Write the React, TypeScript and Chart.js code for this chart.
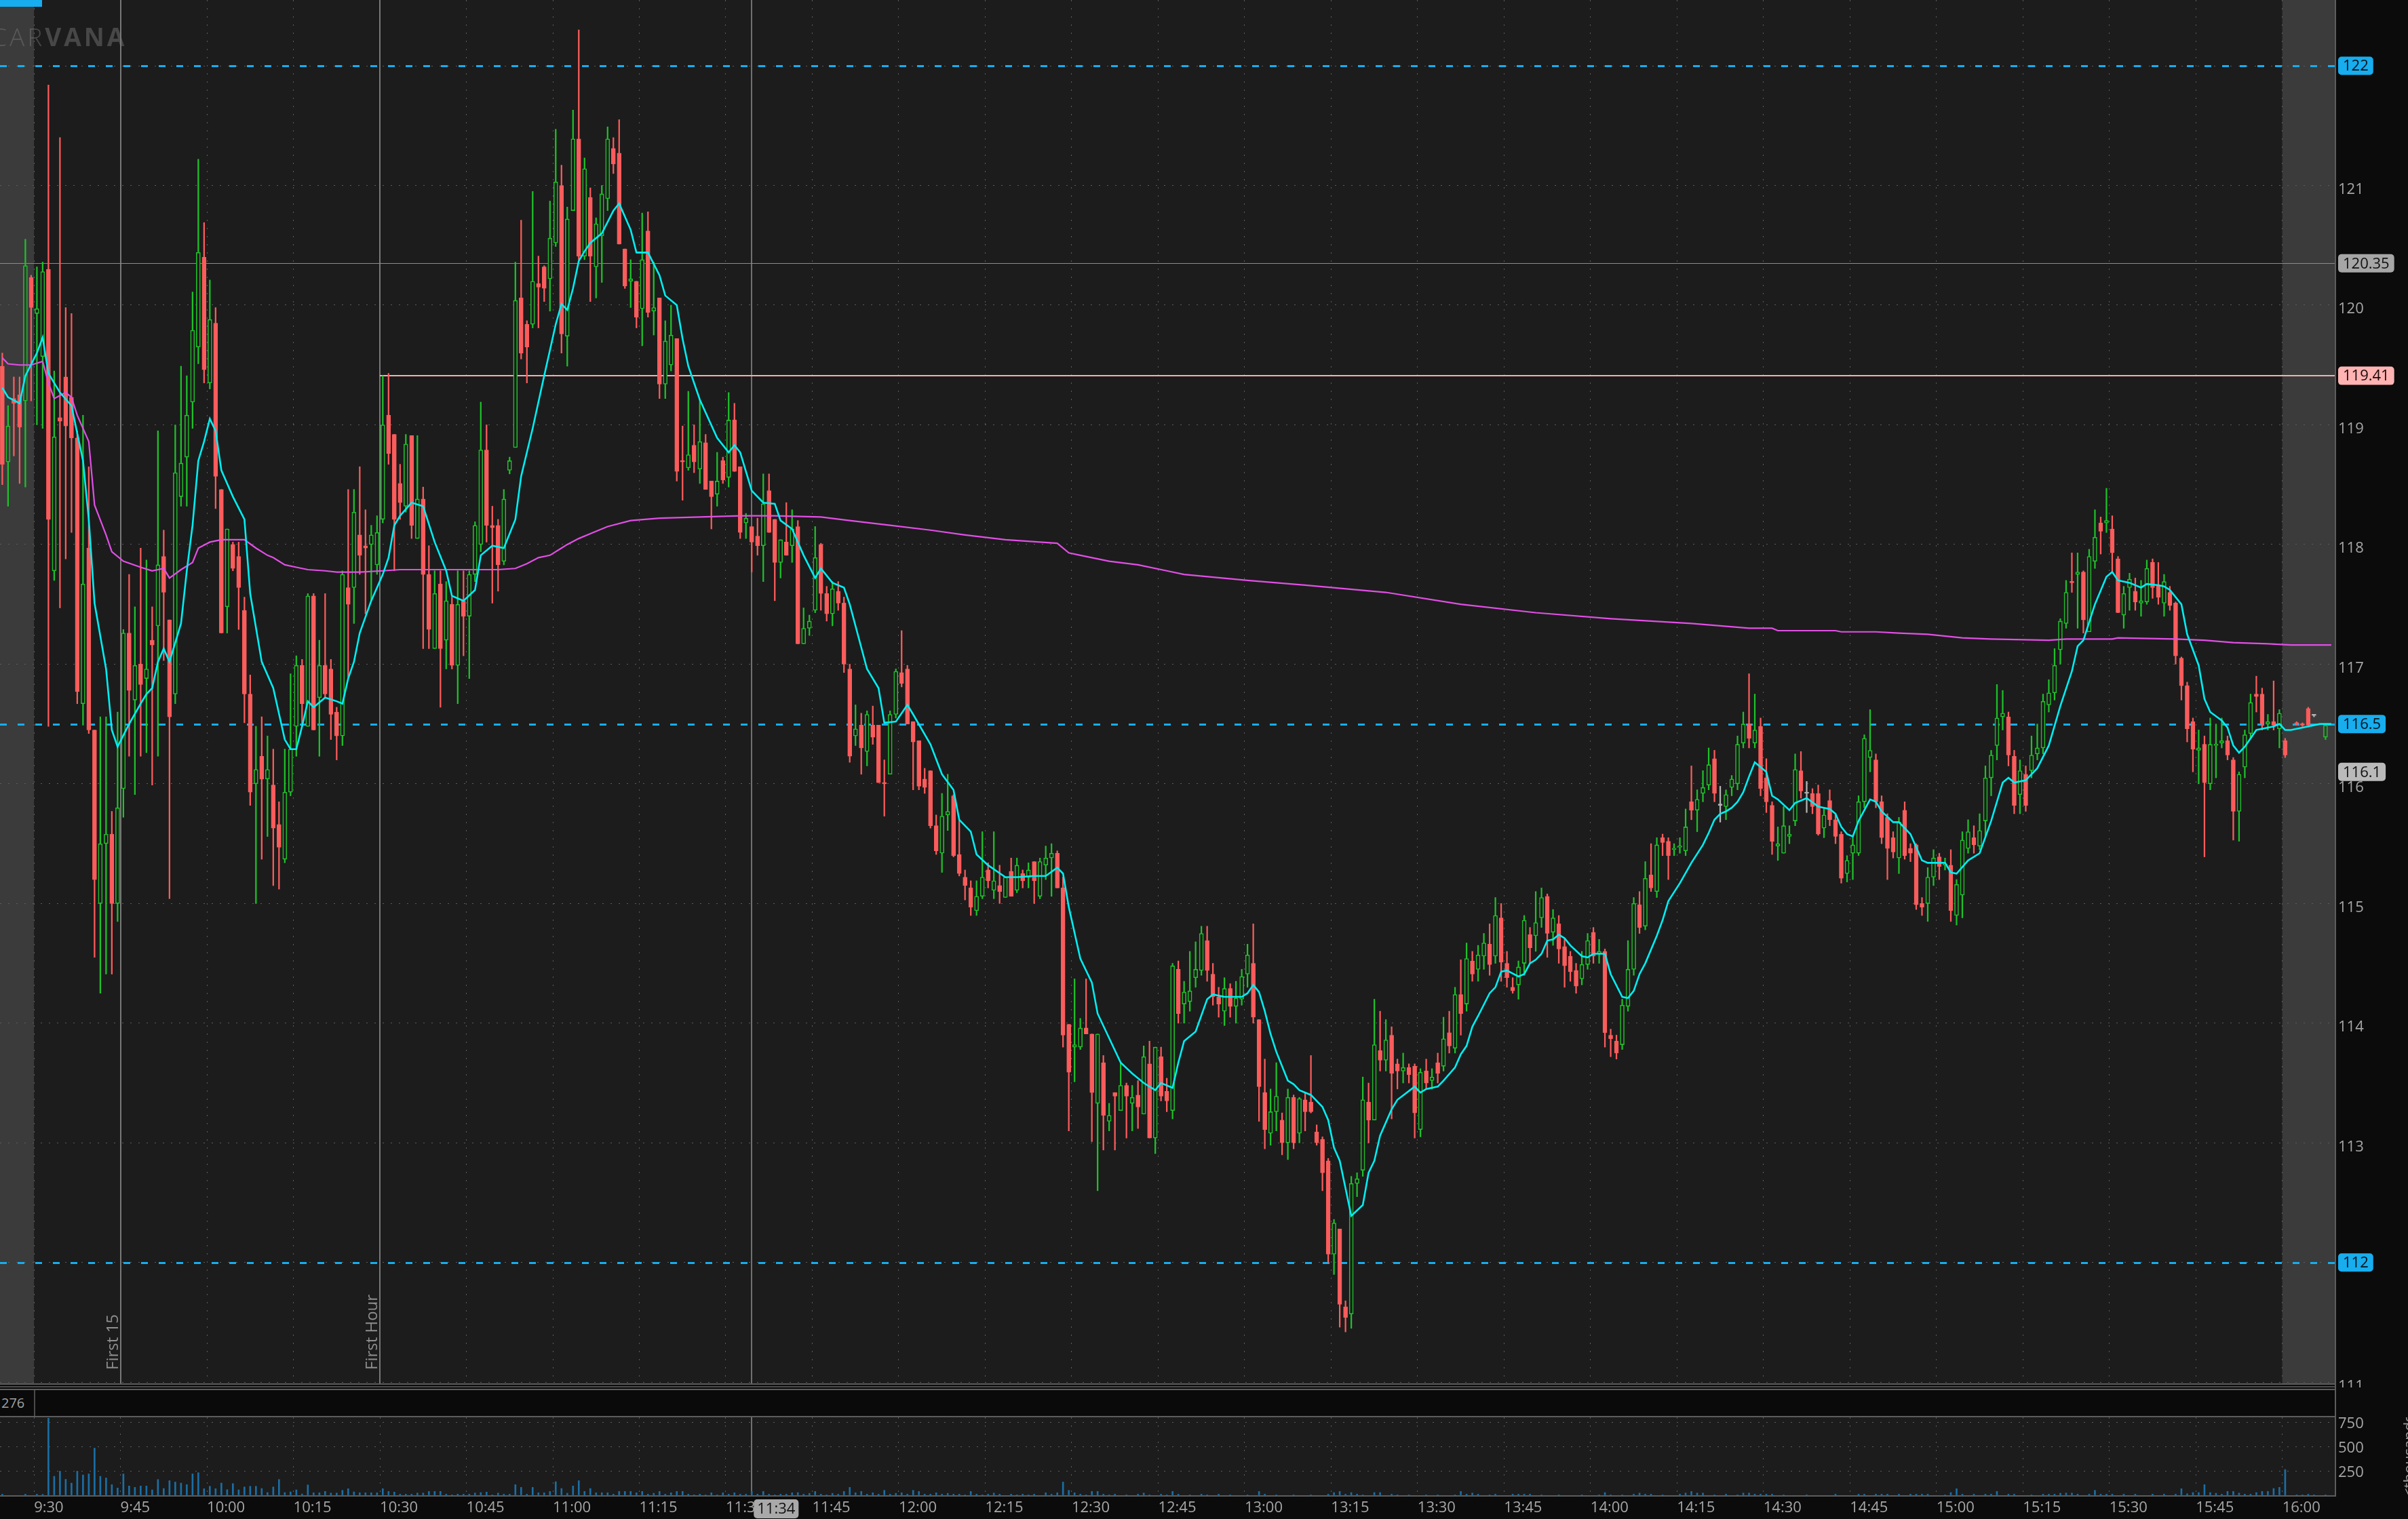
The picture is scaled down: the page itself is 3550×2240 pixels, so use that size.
import React, { useEffect, useRef } from 'react';
import { Chart, registerables } from 'chart.js';

Chart.register(...registerables);

// ---------------- DATA (1-minute candles: [open, high, low, close]) ----------------
// pre-market, minutes -6 .. -1 relative to 9:30
const preMarketCandles = [
  [119.49, 119.6, 118.5, 118.67], [118.69, 119.16, 118.32, 118.99], [119.22, 119.4, 118.74, 119.18],
  [119.25, 119.4, 118.51, 118.98], [119.2, 120.55, 118.48, 120.33], [120.23, 120.25, 119.2, 119.98],
];
// 9:30 - 10:29
const candles0930 = [
  [119.93, 120.32, 119.0, 119.97], [119.57, 120.36, 118.97, 120.28], [120.3, 121.84, 116.48, 118.21], [117.78, 119.45, 117.7, 118.9],
  [119.06, 121.4, 117.47, 119.03], [119.4, 119.98, 117.88, 118.99], [119.23, 119.93, 118.1, 118.89], [118.89, 118.95, 116.67, 116.77],
  [116.67, 119.08, 116.49, 117.67], [117.97, 118.65, 116.42, 116.45], [116.45, 116.45, 114.55, 115.2], [115.0, 116.56, 114.25, 115.5],
  [115.5, 116.56, 114.41, 115.58], [115.58, 115.77, 114.41, 115.0], [115.0, 116.6, 114.85, 115.8], [115.96, 117.29, 115.72, 117.26],
  [117.26, 117.75, 116.23, 116.78], [116.7, 117.48, 115.91, 116.99], [117.0, 117.97, 116.23, 116.83], [116.88, 117.87, 116.26, 116.96],
  [117.2, 117.48, 115.99, 117.16], [117.32, 118.95, 116.23, 117.83], [117.9, 118.12, 117.03, 117.6], [117.37, 117.37, 115.04, 116.56],
  [116.75, 119.0, 116.67, 118.6], [118.4, 119.49, 118.32, 118.68], [118.73, 119.41, 118.32, 119.08], [119.19, 120.11, 118.97, 119.79],
  [119.65, 121.22, 119.51, 120.44], [120.4, 120.69, 119.35, 119.46], [119.35, 120.21, 119.3, 119.88], [119.85, 119.98, 118.3, 118.57],
  [118.46, 118.46, 117.26, 117.26], [117.48, 118.13, 117.26, 118.13], [118.0, 118.02, 117.78, 117.8], [117.9, 118.02, 117.29, 117.64],
  [117.45, 117.56, 116.51, 116.75], [116.75, 116.91, 115.82, 115.93], [116.0, 116.48, 115.0, 116.12], [116.23, 116.56, 115.37, 116.04],
  [116.04, 116.4, 115.56, 116.12], [115.99, 116.29, 115.15, 115.63], [115.66, 115.85, 115.12, 115.47], [115.37, 116.29, 115.34, 115.93],
  [115.93, 116.92, 115.9, 116.29], [116.48, 117.07, 116.23, 116.99], [116.99, 117.04, 116.48, 116.67], [116.48, 117.59, 116.48, 117.57],
  [117.57, 117.59, 116.45, 116.45], [116.72, 117.2, 116.23, 116.99], [116.99, 117.59, 116.72, 116.75], [116.96, 117.04, 116.37, 116.58],
  [116.6, 116.64, 116.2, 116.4], [116.4, 117.78, 116.32, 117.75], [117.64, 118.46, 116.89, 117.5], [117.64, 118.46, 117.34, 118.27],
  [118.08, 118.65, 117.75, 117.91], [117.99, 118.29, 117.42, 117.97], [118.0, 118.16, 117.53, 118.08], [117.83, 118.24, 117.75, 118.1],
];
// 10:30 - 11:29
const candles1030 = [
  [118.21, 119.41, 118.18, 119.0], [119.08, 119.43, 118.67, 118.76], [118.92, 118.92, 117.78, 118.21], [118.51, 118.67, 118.21, 118.35],
  [118.32, 118.92, 118.27, 118.84], [118.91, 118.91, 118.05, 118.16], [118.05, 118.91, 118.05, 118.38], [118.38, 118.48, 117.13, 117.75],
  [117.75, 117.99, 117.13, 117.29], [117.13, 117.78, 117.13, 117.59], [117.67, 117.78, 116.64, 117.13], [117.2, 117.69, 116.96, 117.53],
  [117.5, 117.56, 116.96, 116.99], [116.99, 117.78, 116.67, 117.5], [117.53, 117.78, 117.07, 117.4], [117.4, 117.78, 116.88, 117.75],
  [117.75, 118.19, 117.69, 118.16], [118.0, 119.19, 117.94, 118.79], [118.79, 119.0, 118.02, 118.16], [118.16, 118.32, 117.51, 118.14],
  [118.16, 118.21, 117.61, 117.83], [117.86, 118.46, 117.83, 118.38], [118.62, 118.73, 118.59, 118.7], [118.81, 120.36, 118.81, 120.04],
  [120.06, 120.71, 119.55, 119.6], [119.84, 119.87, 119.35, 119.65], [119.84, 120.95, 119.81, 120.2], [120.18, 120.41, 119.81, 120.15],
  [120.32, 120.33, 120.03, 120.14], [120.22, 120.87, 119.95, 120.56], [120.52, 121.47, 120.49, 121.03], [121.0, 121.17, 119.6, 119.76],
  [119.74, 120.82, 119.49, 120.72], [120.79, 121.63, 120.79, 121.39], [121.39, 122.3, 120.38, 120.41], [120.41, 121.23, 120.38, 121.14],
  [120.9, 120.98, 120.03, 120.41], [120.32, 120.73, 120.06, 120.68], [120.58, 121.0, 120.19, 120.93], [120.89, 121.49, 120.79, 121.39],
  [121.31, 121.4, 121.1, 121.18], [121.27, 121.55, 120.51, 120.51], [120.47, 120.47, 120.14, 120.16], [120.2, 120.38, 119.98, 120.22],
  [120.2, 120.2, 119.81, 119.9], [119.97, 120.77, 119.66, 120.38], [120.62, 120.78, 119.9, 119.94], [119.95, 120.36, 119.75, 119.98],
  [120.06, 120.06, 119.22, 119.34], [119.34, 119.87, 119.22, 119.7], [119.5, 120.0, 119.45, 119.75], [119.72, 119.72, 118.53, 118.61],
  [118.7, 118.99, 118.37, 118.69], [118.64, 119.28, 118.62, 118.75], [118.83, 119.0, 118.6, 118.69], [118.63, 119.21, 118.51, 118.86],
  [118.85, 118.92, 118.46, 118.46], [118.53, 118.53, 118.13, 118.4], [118.42, 118.77, 118.32, 118.53], [118.7, 118.73, 118.51, 118.54],
];
// 11:30 - 12:29
const candles1130 = [
  [118.56, 119.27, 118.48, 119.04], [119.04, 119.18, 118.61, 118.61], [118.65, 118.65, 118.05, 118.1], [118.18, 118.26, 118.05, 118.22],
  [118.15, 118.15, 117.77, 118.02], [118.07, 118.22, 117.91, 117.99], [117.99, 118.59, 117.69, 118.34], [118.45, 118.59, 118.1, 118.1],
  [118.21, 118.21, 117.53, 117.85], [117.85, 118.04, 117.72, 118.04], [118.02, 118.35, 117.91, 117.91], [117.99, 118.29, 117.85, 118.13],
  [118.15, 118.2, 117.17, 117.17], [117.17, 117.47, 117.17, 117.3], [117.3, 117.41, 117.24, 117.36], [117.45, 118.15, 117.43, 117.89],
  [118.0, 118.01, 117.45, 117.59], [117.59, 117.65, 117.36, 117.42], [117.42, 117.69, 117.32, 117.63], [117.61, 117.69, 117.45, 117.51],
  [117.51, 117.56, 116.93, 117.0], [116.96, 117.0, 116.18, 116.23], [116.4, 116.66, 116.32, 116.46], [116.49, 116.59, 116.08, 116.3],
  [116.27, 116.61, 116.15, 116.58], [116.49, 116.65, 116.33, 116.39], [116.49, 116.49, 116.01, 116.01], [116.01, 116.2, 115.73, 116.0],
  [116.08, 116.61, 116.08, 116.58], [116.58, 116.96, 116.55, 116.94], [116.93, 117.28, 116.81, 116.84], [116.96, 116.99, 116.5, 116.5],
  [116.52, 116.52, 115.95, 116.35], [116.36, 116.36, 115.95, 115.98], [116.04, 116.13, 115.92, 115.97], [116.11, 116.11, 115.63, 115.65],
  [115.65, 115.74, 115.41, 115.44], [115.42, 115.92, 115.26, 115.73], [115.74, 116.08, 115.61, 115.77], [115.9, 115.91, 115.39, 115.4],
  [115.41, 115.7, 115.23, 115.25], [115.22, 115.28, 115.03, 115.15], [115.13, 115.19, 114.9, 114.97], [114.94, 115.19, 114.9, 115.06],
  [115.06, 115.6, 115.04, 115.22], [115.28, 115.34, 115.13, 115.19], [115.11, 115.6, 115.04, 115.19], [115.15, 115.32, 115.0, 115.1],
  [115.05, 115.22, 115.05, 115.22], [115.27, 115.38, 115.06, 115.06], [115.11, 115.38, 115.09, 115.32], [115.25, 115.28, 115.13, 115.19],
  [115.22, 115.34, 115.13, 115.28], [115.35, 115.35, 115.0, 115.19], [115.06, 115.38, 115.04, 115.35], [115.32, 115.48, 115.2, 115.38],
  [115.38, 115.5, 115.06, 115.42], [115.42, 115.44, 115.13, 115.13], [115.13, 115.22, 113.8, 113.9], [113.99, 113.99, 113.1, 113.59],
];
// 12:30 - 13:29
const candles1230 = [
  [113.8, 114.37, 113.51, 113.82], [113.8, 114.04, 113.78, 113.96], [113.96, 114.37, 113.91, 113.91], [113.91, 113.91, 113.01, 113.42],
  [113.33, 113.91, 112.6, 113.91], [113.67, 113.73, 112.94, 113.23], [113.18, 113.33, 113.1, 113.23], [113.42, 113.42, 112.94, 113.39],
  [113.27, 113.67, 113.27, 113.48], [113.48, 113.5, 113.04, 113.39], [113.33, 113.48, 113.1, 113.38], [113.4, 113.52, 113.12, 113.3],
  [113.24, 113.81, 113.24, 113.72], [113.66, 113.85, 113.04, 113.04], [113.04, 113.8, 112.91, 113.8], [113.72, 113.8, 113.35, 113.39],
  [113.43, 113.54, 113.26, 113.35], [113.27, 114.5, 113.2, 114.48], [114.45, 114.52, 114.0, 114.08], [114.16, 114.35, 114.0, 114.26],
  [114.18, 114.6, 114.1, 114.27], [114.38, 114.68, 114.3, 114.45], [114.44, 114.81, 114.4, 114.75], [114.69, 114.81, 114.35, 114.44],
  [114.41, 114.5, 114.15, 114.22], [114.22, 114.3, 114.05, 114.16], [114.1, 114.38, 113.98, 114.29], [114.29, 114.33, 114.05, 114.14],
  [114.14, 114.35, 114.0, 114.21], [114.2, 114.45, 114.15, 114.39], [114.41, 114.66, 114.3, 114.57], [114.5, 114.83, 114.0, 114.05],
  [114.03, 114.03, 113.18, 113.47], [113.42, 113.7, 112.95, 113.11], [113.08, 113.45, 112.98, 113.26], [113.26, 113.67, 113.1, 113.39],
  [113.19, 113.25, 112.9, 113.0], [113.0, 113.45, 112.86, 113.38], [113.38, 113.4, 112.95, 113.0], [113.08, 113.38, 113.0, 113.37],
  [113.36, 113.42, 113.1, 113.26], [113.34, 113.73, 113.25, 113.26], [113.09, 113.15, 112.98, 113.0], [113.03, 113.05, 112.6, 112.75],
  [112.85, 112.87, 112.0, 112.07], [112.07, 112.36, 111.9, 112.33], [112.28, 112.28, 111.46, 111.65], [111.63, 111.68, 111.42, 111.54],
  [111.57, 112.72, 111.45, 112.66], [112.66, 112.75, 112.55, 112.7], [112.77, 113.55, 112.72, 113.36], [113.34, 113.5, 113.0, 113.19],
  [113.19, 114.2, 113.19, 113.82], [113.77, 114.1, 113.6, 113.69], [113.69, 114.03, 113.6, 113.86], [113.9, 113.97, 113.2, 113.58],
  [113.66, 113.7, 113.45, 113.6], [113.6, 113.75, 113.5, 113.63], [113.63, 113.66, 113.5, 113.57], [113.64, 113.66, 113.04, 113.25],
];
// 13:30 - 14:29
const candles1330 = [
  [113.11, 113.62, 113.05, 113.59], [113.6, 113.7, 113.45, 113.5], [113.52, 113.62, 113.45, 113.55], [113.67, 113.75, 113.5, 113.58],
  [113.64, 114.05, 113.6, 113.87], [113.92, 114.1, 113.75, 113.81], [113.79, 114.3, 113.75, 114.24], [114.24, 114.53, 113.9, 114.08],
  [114.16, 114.67, 114.1, 114.54], [114.52, 114.6, 114.35, 114.41], [114.45, 114.65, 114.35, 114.57], [114.56, 114.75, 114.45, 114.67],
  [114.66, 114.83, 114.4, 114.49], [114.56, 115.05, 114.5, 114.9], [114.88, 115.0, 114.35, 114.51], [114.5, 114.6, 114.3, 114.38],
  [114.3, 114.38, 114.25, 114.27], [114.32, 114.52, 114.2, 114.47], [114.5, 114.9, 114.4, 114.86], [114.74, 114.8, 114.5, 114.63],
  [114.73, 115.1, 114.6, 114.84], [114.88, 115.13, 114.8, 115.05], [115.06, 115.08, 114.55, 114.75], [114.76, 114.95, 114.65, 114.88],
  [114.83, 114.9, 114.5, 114.62], [114.64, 114.7, 114.3, 114.48], [114.56, 114.6, 114.35, 114.43], [114.44, 114.5, 114.25, 114.31],
  [114.37, 114.6, 114.32, 114.49], [114.49, 114.75, 114.45, 114.69], [114.76, 114.8, 114.5, 114.56], [114.58, 114.7, 114.5, 114.6],
  [114.6, 114.62, 113.8, 113.92], [113.9, 113.95, 113.72, 113.87], [113.85, 113.9, 113.7, 113.75], [113.82, 114.2, 113.78, 114.15],
  [114.14, 114.69, 114.1, 114.45], [114.45, 115.05, 114.4, 115.0], [114.99, 115.1, 114.75, 114.8], [114.81, 115.35, 114.78, 115.21],
  [115.24, 115.5, 115.1, 115.13], [115.1, 115.55, 115.05, 115.49], [115.55, 115.58, 115.4, 115.51], [115.52, 115.55, 115.2, 115.4],
  [115.45, 115.5, 115.4, 115.46], [115.47, 115.55, 115.42, 115.48], [115.44, 115.79, 115.4, 115.64], [115.85, 116.15, 115.7, 115.78],
  [115.78, 115.95, 115.6, 115.87], [115.92, 116.11, 115.85, 115.97], [115.99, 116.3, 115.95, 116.16], [116.21, 116.28, 115.85, 115.92],
  [115.82, 115.98, 115.68, 115.82], [115.81, 115.95, 115.7, 115.91], [115.97, 116.07, 115.9, 116.04], [116.0, 116.4, 115.95, 116.33],
  [116.34, 116.6, 116.3, 116.5], [116.5, 116.92, 116.3, 116.38], [116.34, 116.75, 116.3, 116.45], [116.48, 116.55, 115.9, 115.96],
];
// 14:30 - 15:29
const candles1430 = [
  [116.05, 116.21, 115.76, 115.85], [115.82, 115.85, 115.41, 115.52], [115.48, 115.64, 115.36, 115.5], [115.42, 115.81, 115.42, 115.65],
  [115.56, 115.65, 115.5, 115.58], [115.69, 116.25, 115.65, 116.12], [116.11, 116.27, 115.88, 115.94], [115.92, 116.02, 115.76, 115.92],
  [115.92, 115.96, 115.75, 115.81], [115.92, 115.99, 115.57, 115.58], [115.63, 115.8, 115.55, 115.74], [115.86, 115.95, 115.65, 115.7],
  [115.7, 115.75, 115.5, 115.56], [115.58, 115.6, 115.17, 115.21], [115.25, 115.4, 115.18, 115.36], [115.42, 115.55, 115.2, 115.49],
  [115.42, 115.9, 115.4, 115.85], [115.85, 116.41, 115.8, 116.38], [116.22, 116.62, 116.1, 116.28], [116.2, 116.25, 115.8, 115.85],
  [115.85, 115.9, 115.5, 115.55], [115.72, 115.75, 115.2, 115.46], [115.55, 115.6, 115.38, 115.43], [115.38, 115.72, 115.25, 115.68],
  [115.78, 115.85, 115.37, 115.4], [115.46, 115.5, 115.35, 115.42], [115.49, 115.5, 114.95, 114.99], [115.0, 115.05, 114.9, 114.97],
  [115.0, 115.3, 114.85, 115.22], [115.22, 115.45, 115.15, 115.38], [115.39, 115.42, 115.2, 115.31], [115.32, 115.38, 115.28, 115.33],
  [115.32, 115.45, 114.85, 114.94], [114.9, 115.2, 114.82, 115.16], [115.07, 115.6, 114.88, 115.53], [115.46, 115.7, 115.42, 115.6],
  [115.55, 115.65, 115.42, 115.49], [115.48, 115.75, 115.45, 115.61], [115.69, 116.15, 115.55, 116.05], [116.05, 116.28, 115.9, 116.24],
  [116.32, 116.83, 116.2, 116.55], [116.56, 116.78, 116.45, 116.59], [116.56, 116.6, 116.15, 116.24], [116.23, 116.28, 115.75, 115.82],
  [115.91, 116.2, 115.75, 116.11], [116.08, 116.15, 115.77, 115.82], [116.11, 116.4, 116.05, 116.24], [116.25, 116.5, 116.2, 116.3],
  [116.3, 116.75, 116.25, 116.69], [116.66, 116.87, 116.6, 116.76], [116.76, 117.13, 116.7, 116.99], [117.12, 117.38, 117.0, 117.36],
  [117.34, 117.7, 117.3, 117.6], [117.69, 117.93, 117.6, 117.68], [117.75, 117.93, 117.3, 117.77], [117.77, 117.78, 117.26, 117.37],
  [117.27, 117.96, 117.27, 117.9], [117.86, 118.29, 117.8, 118.06], [118.18, 118.23, 117.92, 118.11], [118.18, 118.47, 118.1, 118.2],
];
// 15:30 - 15:59
const candles1530 = [
  [118.13, 118.24, 117.76, 117.93], [117.88, 117.9, 117.43, 117.43], [117.41, 117.65, 117.3, 117.59], [117.64, 117.76, 117.45, 117.71],
  [117.61, 117.72, 117.45, 117.52], [117.51, 117.7, 117.4, 117.53], [117.52, 117.87, 117.5, 117.8], [117.85, 117.88, 117.55, 117.64],
  [117.66, 117.85, 117.5, 117.56], [117.51, 117.75, 117.4, 117.69], [117.6, 117.65, 117.45, 117.49], [117.51, 117.52, 117.0, 117.07],
  [117.05, 117.06, 116.7, 116.82], [116.82, 116.85, 116.35, 116.46], [116.52, 116.55, 116.1, 116.29], [116.28, 116.45, 116.0, 116.3],
  [116.33, 116.4, 115.39, 116.01], [116.0, 116.55, 115.95, 116.33], [116.32, 116.5, 116.05, 116.33], [116.34, 116.55, 116.3, 116.36],
  [116.36, 116.4, 116.2, 116.24], [116.2, 116.22, 115.53, 115.77], [115.77, 116.1, 115.52, 116.08], [116.14, 116.45, 116.05, 116.41],
  [116.42, 116.75, 116.38, 116.68], [116.75, 116.9, 116.6, 116.73], [116.75, 116.8, 116.45, 116.5], [116.5, 116.58, 116.45, 116.52],
  [116.52, 116.86, 116.45, 116.49], [116.46, 116.62, 116.3, 116.59],
];
// after hours (sparse)
const afterHoursMinutes = [390, 392, 393, 394, 395, 397];
const afterHoursCandles = [
  [116.36, 116.38, 116.22, 116.24], [116.51, 116.52, 116.49, 116.5], [116.5, 116.51, 116.48, 116.49],
  [116.63, 116.64, 116.49, 116.49], [116.57, 116.58, 116.56, 116.57], [116.39, 116.5, 116.37, 116.49],
];

// volume, thousands of shares
const volPre = [12, 0, 0, 0, 12, 0];
const vol0930 = [12, 10, 797, 196, 249, 165, 126, 249, 210, 221, 487, 196, 179, 110, 75, 221, 96, 82, 96, 96, 56, 163, 70, 151, 137, 126, 110, 221, 233, 68, 93, 68, 126, 58, 121, 56, 86, 93, 93, 70, 28, 86, 163, 28, 35, 56, 14, 107, 26, 26, 40, 23, 23, 51, 68, 35, 26, 26, 26, 26];
const vol1030 = [68, 40, 33, 12, 12, 12, 23, 23, 40, 40, 40, 12, 5, 12, 12, 12, 23, 28, 33, 5, 23, 12, 12, 110, 82, 12, 82, 26, 26, 40, 140, 70, 21, 96, 151, 40, 70, 26, 26, 26, 12, 40, 40, 40, 26, 40, 12, 21, 40, 12, 26, 40, 40, 12, 5, 12, 5, 26, 5, 26];
const vol1130 = [12, 26, 12, 12, 40, 12, 40, 12, 5, 12, 12, 26, 28, 12, 20, 40, 12, 5, 20, 12, 40, 82, 26, 40, 12, 26, 12, 51, 12, 20, 26, 12, 51, 40, 12, 12, 26, 12, 20, 12, 12, 5, 40, 12, 5, 12, 23, 12, 0, 12, 5, 12, 5, 12, 0, 26, 12, 26, 137, 51];
const vol1230 = [26, 12, 5, 40, 40, 12, 5, 12, 0, 5, 0, 12, 23, 5, 0, 12, 5, 40, 12, 0, 5, 0, 12, 5, 0, 12, 0, 5, 0, 0, 5, 0, 40, 12, 0, 5, 0, 0, 5, 0, 0, 5, 0, 0, 12, 28, 40, 12, 28, 12, 5, 0, 28, 28, 0, 12, 5, 0, 5, 0];
const vol1330 = [0, 5, 0, 5, 0, 0, 5, 40, 12, 23, 12, 0, 5, 12, 0, 0, 12, 12, 12, 12, 0, 5, 0, 0, 5, 0, 0, 0, 5, 0, 0, 5, 28, 5, 0, 5, 0, 12, 23, 12, 12, 0, 5, 0, 0, 12, 23, 40, 23, 23, 0, 5, 0, 12, 0, 5, 23, 23, 12, 12];
const vol1430 = [12, 12, 0, 5, 0, 0, 0, 5, 0, 0, 0, 0, 12, 0, 0, 0, 12, 12, 0, 12, 12, 12, 0, 12, 0, 12, 12, 12, 12, 0, 0, 5, 28, 68, 12, 0, 12, 0, 12, 12, 40, 0, 12, 12, 0, 0, 5, 0, 12, 12, 12, 21, 23, 23, 12, 0, 12, 51, 12, 12];
const vol1530 = [12, 0, 12, 0, 12, 0, 0, 12, 0, 12, 0, 12, 68, 16, 28, 28, 110, 28, 21, 12, 40, 40, 23, 12, 12, 28, 40, 40, 70, 82];
const volAfter = [266, 5, 5, 12, 2, 5];

// cyan fast average: [minute, price]
const emaLine = [
  [-6, 119.31], [-5, 119.23], [-3, 119.18], [-2, 119.41], [0, 119.6], [1, 119.73], [2, 119.43], [4, 119.27], [6, 119.16], [8, 118.7],
  [9, 118.21], [10, 117.51], [12, 116.96], [13, 116.45], [14, 116.31], [16, 116.5], [18, 116.67], [19, 116.75], [20, 116.8], [21, 117.02],
  [22, 117.13], [23, 117.02], [25, 117.34], [26, 117.78], [27, 118.16], [28, 118.7], [29, 118.86], [30, 119.05], [31, 118.95], [32, 118.62],
  [34, 118.4], [36, 118.21], [37, 117.59], [39, 117.02], [41, 116.8], [43, 116.37], [44, 116.29], [45, 116.29], [46, 116.48], [47, 116.69],
  [48, 116.64], [50, 116.72], [52, 116.69], [53, 116.67], [54, 116.88], [55, 117.02], [56, 117.26], [58, 117.53], [60, 117.75], [61, 117.89],
  [62, 118.16], [63, 118.24], [65, 118.35], [67, 118.32], [69, 118.02], [71, 117.78], [72, 117.57], [74, 117.53], [76, 117.62], [77, 117.91],
  [79, 117.99], [81, 117.97], [83, 118.21], [84, 118.57], [86, 118.97], [88, 119.41], [90, 119.84], [91, 120.01], [92, 119.96], [93, 120.14],
  [94, 120.37], [95, 120.45], [96, 120.52], [98, 120.6], [100, 120.79], [101, 120.85], [103, 120.63], [104, 120.44], [106, 120.44], [108, 120.25],
  [109, 120.08], [111, 120.0], [112, 119.72], [113, 119.49], [115, 119.21], [118, 118.89], [120, 118.77], [121, 118.83], [122, 118.77], [124, 118.45],
  [126, 118.35], [128, 118.34], [129, 118.2], [131, 118.13], [133, 117.91], [135, 117.72], [136, 117.8], [138, 117.68], [140, 117.64], [141, 117.5],
  [144, 116.96], [146, 116.8], [147, 116.51], [149, 116.52], [151, 116.66], [152, 116.58], [155, 116.33], [157, 116.08], [159, 115.95], [160, 115.7],
  [162, 115.6], [163, 115.41], [165, 115.32], [168, 115.22], [170, 115.22], [173, 115.23], [175, 115.23], [177, 115.3], [178, 115.25], [179, 114.97],
  [181, 114.54], [183, 114.34], [184, 114.08], [188, 113.67], [190, 113.58], [192, 113.5], [194, 113.44], [195, 113.5], [197, 113.46], [198, 113.67],
  [199, 113.85], [201, 113.93], [203, 114.2], [204, 114.24], [206, 114.22], [209, 114.22], [210, 114.25], [211, 114.32], [212, 114.26], [213, 114.1],
  [214, 113.91], [215, 113.76], [217, 113.52], [218, 113.49], [219, 113.44], [221, 113.4], [223, 113.3], [224, 113.19], [225, 112.96], [226, 112.85],
  [227, 112.62], [228, 112.39], [230, 112.48], [231, 112.75], [232, 112.85], [233, 113.06], [235, 113.28], [236, 113.36], [239, 113.47], [240, 113.42],
  [241, 113.45], [243, 113.47], [244, 113.52], [246, 113.63], [247, 113.74], [248, 113.81], [249, 113.97], [250, 114.06], [252, 114.25], [253, 114.3],
  [254, 114.43], [255, 114.44], [257, 114.39], [258, 114.41], [259, 114.5], [260, 114.53], [261, 114.58], [262, 114.69], [263, 114.7], [264, 114.74],
  [265, 114.71], [266, 114.65], [268, 114.56], [269, 114.55], [270, 114.58], [272, 114.58], [273, 114.41], [275, 114.22], [276, 114.21], [277, 114.27],
  [278, 114.41], [279, 114.5], [281, 114.73], [282, 114.86], [283, 115.02], [285, 115.17], [287, 115.34], [289, 115.49], [290, 115.59], [291, 115.7],
  [292, 115.75], [293, 115.77], [294, 115.8], [295, 115.85], [296, 115.93], [297, 116.06], [298, 116.18], [299, 116.14], [300, 116.1], [301, 115.9],
  [302, 115.87], [304, 115.78], [305, 115.84], [307, 115.88], [309, 115.81], [311, 115.79], [312, 115.75], [313, 115.64], [314, 115.58], [315, 115.56],
  [316, 115.69], [318, 115.87], [319, 115.85], [320, 115.77], [322, 115.68], [323, 115.68], [325, 115.58], [327, 115.36], [328, 115.34], [330, 115.34],
  [331, 115.34], [332, 115.26], [333, 115.25], [335, 115.36], [337, 115.42], [339, 115.69], [341, 116.01], [342, 116.05], [343, 116.01], [345, 116.03],
  [347, 116.13], [349, 116.32], [351, 116.65], [353, 116.94], [354, 117.15], [355, 117.2], [357, 117.5], [359, 117.73], [360, 117.77], [361, 117.7],
  [363, 117.68], [365, 117.64], [366, 117.67], [368, 117.66], [369, 117.65], [370, 117.62], [372, 117.5], [373, 117.25], [375, 116.99], [376, 116.71],
  [377, 116.6], [379, 116.53], [380, 116.47], [381, 116.32], [382, 116.26], [383, 116.31], [385, 116.45], [387, 116.47], [388, 116.48], [389, 116.5],
  [390, 116.45], [391, 116.45], [394, 116.48], [396, 116.5], [398, 116.5],
];
// magenta slow average: [minute, price]
const vwapLine = [
  [-6, 119.56], [-5, 119.51], [-3, 119.5], [-1, 119.5], [1, 119.53], [2, 119.35], [3, 119.22], [5, 119.27], [6, 119.23], [7, 119.08],
  [8, 118.97], [9, 118.86], [10, 118.33], [12, 118.08], [13, 117.94], [15, 117.86], [18, 117.81], [20, 117.78], [22, 117.8], [23, 117.72],
  [25, 117.79], [27, 117.85], [28, 117.97], [30, 118.02], [32, 118.04], [36, 118.04], [38, 117.97], [40, 117.91], [41, 117.89], [43, 117.83],
  [45, 117.81], [47, 117.79], [50, 117.78], [52, 117.77], [56, 117.77], [60, 117.78], [63, 117.79], [67, 117.79], [80, 117.79], [83, 117.8],
  [85, 117.84], [87, 117.89], [89, 117.91], [91, 117.97], [92, 118.0], [94, 118.05], [96, 118.09], [99, 118.15], [103, 118.2], [108, 118.22],
  [115, 118.23], [122, 118.24], [128, 118.24], [136, 118.23], [141, 118.2], [148, 118.16], [155, 118.12], [161, 118.08], [168, 118.04], [174, 118.02],
  [177, 118.01], [179, 117.93], [181, 117.91], [184, 117.88], [186, 117.86], [191, 117.83], [196, 117.78], [199, 117.75], [210, 117.7], [220, 117.66],
  [234, 117.6], [247, 117.5], [260, 117.43], [273, 117.38], [287, 117.34], [297, 117.3], [301, 117.3], [302, 117.28], [312, 117.28], [313, 117.27],
  [319, 117.27], [323, 117.26], [328, 117.25], [334, 117.22], [339, 117.21], [349, 117.2], [352, 117.21], [360, 117.21], [361, 117.22], [371, 117.21],
  [376, 117.2], [381, 117.18], [387, 117.17], [391, 117.16], [398, 117.16],
];

const timeTickMinutes = [0, 15, 30, 45, 60, 75, 90, 105, 120, 135, 150, 165, 180, 195, 210, 225, 240, 255, 270, 285, 300, 315, 330, 345, 360, 375, 390];
const timeTickLabels = ['9:30', '9:45', '10:00', '10:15', '10:30', '10:45', '11:00', '11:15', '11:30', '11:45', '12:00', '12:15', '12:30', '12:45', '13:00', '13:15', '13:30', '13:45', '14:00', '14:15', '14:30', '14:45', '15:00', '15:15', '15:30', '15:45', '16:00'];
const priceTicks = [111, 112, 113, 114, 115, 116, 117, 118, 119, 120, 121, 122];
const volumeTicks = [0, 250, 500, 750];
const dashedLevels = [122, 116.5, 112];
const highLevel = 119.41;
const highLevelFrom = 60;
const cursorPrice = 120.35;
const cursorMinute = 124;
const cursorLabel = '11:34';
const sessionMarks = [{ minute: 15, label: 'First 15' }, { minute: 60, label: 'First Hour' }];
const stripValue = '276';

// ---------------- STYLE ----------------
const BLUE = '#17adee';
const UP = '#1ec12a';
const DOWN = '#fb5c5c';
const FLAT = '#b4b4b4';
const PANEL = '#1c1c1c';
const SHADE = '#3b3b3b';
const OUTER = '#0b0b0b';
const GRID = '#5c5c5c';
const AXIS_TEXT = '#a6a6a6';
const FONT = 'Open Sans';
const X_MIN = -5.9;
const X_MAX = 399.1;
const P_MIN = 110.99;
const P_MAX = 122.55;
const V_MAX = 806;
const SESSION_OPEN = 0;
const SESSION_CLOSE = 390;
const AXIS_W = 108;

const priceBoxes = [
  { value: 122, text: '122', bg: BLUE, fg: '#04121a' },
  { value: 120.35, text: '120.35', bg: '#a6a6a6', fg: '#111111' },
  { value: 119.41, text: '119.41', bg: '#ffb3b3', fg: '#1a0808' },
  { value: 116.5, text: '116.5', bg: BLUE, fg: '#04121a' },
  { value: 116.1, text: '116.1', bg: '#bababa', fg: '#111111' },
  { value: 112, text: '112', bg: BLUE, fg: '#04121a' },
];

type K = { t: number; o: number; h: number; l: number; c: number; v: number };

function blockOf(start: number, rows: number[][], vols: number[]): K[] {
  return rows.map((r, i) => ({ t: start + i, o: r[0], h: r[1], l: r[2], c: r[3], v: vols[i] }));
}

function allCandles(): K[] {
  const list: K[] = [
    ...blockOf(-6, preMarketCandles, volPre),
    ...blockOf(0, candles0930, vol0930),
    ...blockOf(60, candles1030, vol1030),
    ...blockOf(120, candles1130, vol1130),
    ...blockOf(180, candles1230, vol1230),
    ...blockOf(240, candles1330, vol1330),
    ...blockOf(300, candles1430, vol1430),
    ...blockOf(360, candles1530, vol1530),
  ];
  afterHoursCandles.forEach((r, i) => list.push({ t: afterHoursMinutes[i], o: r[0], h: r[1], l: r[2], c: r[3], v: volAfter[i] }));
  return list;
}

const colorOf = (k: K) => (k.c > k.o ? UP : k.c < k.o ? DOWN : FLAT);
const mid = (t: number) => t + 0.5;
const labelForMinute = (v: number) => {
  const i = timeTickMinutes.indexOf(v);
  return i >= 0 ? timeTickLabels[i] : '';
};

function xScaleBase(extra: any) {
  return {
    type: 'linear',
    min: X_MIN,
    max: X_MAX,
    offset: false,
    grid: { offset: false, color: GRID, lineWidth: 1, drawTicks: false },
    border: { display: false, dash: [2, 10] },
    afterBuildTicks: (s: any) => {
      s.ticks = timeTickMinutes.map((v) => ({ value: v }));
    },
    ...extra,
  };
}

function pricePlugin() {
  return {
    id: 'pricePanel',
    beforeDraw(chart: any) {
      const { ctx, chartArea: a, scales } = chart;
      const x = scales.x;
      ctx.save();
      ctx.fillStyle = OUTER;
      ctx.fillRect(0, 0, chart.width, chart.height);
      ctx.fillStyle = PANEL;
      ctx.fillRect(a.left, a.top, a.right - a.left, a.bottom - a.top);
      const x0 = x.getPixelForValue(SESSION_OPEN);
      const x1 = x.getPixelForValue(SESSION_CLOSE);
      ctx.fillStyle = SHADE;
      ctx.fillRect(a.left, a.top, x0 - a.left, a.bottom - a.top);
      ctx.fillRect(x1, a.top, a.right - x1, a.bottom - a.top);
      ctx.restore();
    },
    beforeDatasetsDraw(chart: any) {
      const { ctx, chartArea: a, scales } = chart;
      const x = scales.x;
      const y = scales.y;
      ctx.save();
      ctx.beginPath();
      ctx.rect(a.left, a.top, a.right - a.left, a.bottom - a.top);
      ctx.clip();
      // watermark
      ctx.fillStyle = 'rgba(130,130,130,0.42)';
      ctx.textBaseline = 'alphabetic';
      ctx.textAlign = 'left';
      ctx.letterSpacing = '4px';
      ctx.font = `300 37px "${FONT}"`;
      ctx.fillText('CAR', -13, 68);
      const w = ctx.measureText('CAR').width;
      ctx.font = `700 37px "${FONT}"`;
      ctx.fillText('VANA', -13 + w, 68);
      ctx.letterSpacing = '0px';
      // session marker lines
      ctx.strokeStyle = '#787878';
      ctx.lineWidth = 2;
      for (const s of sessionMarks) {
        const px = Math.round(x.getPixelForValue(s.minute));
        ctx.beginPath();
        ctx.moveTo(px, a.top);
        ctx.lineTo(px, a.bottom);
        ctx.stroke();
      }
      // cursor crosshair
      ctx.strokeStyle = '#8c8c8c';
      ctx.lineWidth = 1.5;
      const cx = Math.round(x.getPixelForValue(mid(cursorMinute)));
      ctx.beginPath();
      ctx.moveTo(cx, a.top);
      ctx.lineTo(cx, a.bottom);
      ctx.stroke();
      const cy = Math.round(y.getPixelForValue(cursorPrice)) + 0.5;
      ctx.lineWidth = 1.2;
      ctx.beginPath();
      ctx.moveTo(a.left, cy);
      ctx.lineTo(a.right, cy);
      ctx.stroke();
      // first hour high
      ctx.strokeStyle = '#f2b0b0';
      ctx.lineWidth = 2;
      const hy = Math.round(y.getPixelForValue(highLevel));
      ctx.beginPath();
      ctx.moveTo(x.getPixelForValue(highLevelFrom), hy);
      ctx.lineTo(a.right, hy);
      ctx.stroke();
      // blue dashed levels
      ctx.strokeStyle = BLUE;
      ctx.lineWidth = 3;
      ctx.setLineDash([10, 16]);
      for (const p of dashedLevels) {
        const py = Math.round(y.getPixelForValue(p)) + 0.5;
        ctx.beginPath();
        ctx.moveTo(a.left, py);
        ctx.lineTo(a.right, py);
        ctx.stroke();
      }
      ctx.setLineDash([]);
      ctx.restore();
    },
    afterDraw(chart: any) {
      const { ctx, chartArea: a, scales } = chart;
      const x = scales.x;
      const y = scales.y;
      ctx.save();
      // session labels
      ctx.font = `24px "${FONT}"`;
      ctx.fillStyle = '#8e8e8e';
      ctx.textBaseline = 'alphabetic';
      ctx.textAlign = 'left';
      for (const s of sessionMarks) {
        const px = x.getPixelForValue(s.minute);
        ctx.save();
        ctx.translate(px - 4, a.bottom - 20);
        ctx.rotate(-Math.PI / 2);
        ctx.fillText(s.label, 0, 0);
        ctx.restore();
      }
      // borders
      ctx.fillStyle = '#5c5c5c';
      ctx.fillRect(a.right, 0, 2, chart.height);
      ctx.fillRect(0, a.bottom, a.right + 2, 2);
      // price boxes
      ctx.font = `22px "${FONT}"`;
      ctx.textBaseline = 'middle';
      for (const b of priceBoxes) {
        const py = y.getPixelForValue(b.value);
        const tw = ctx.measureText(b.text).width;
        const bx = a.right + 5;
        const bw = tw + 14;
        const bh = 27;
        ctx.fillStyle = b.bg;
        ctx.beginPath();
        ctx.roundRect(bx, py - bh / 2, bw, bh, 5);
        ctx.fill();
        ctx.fillStyle = b.fg;
        ctx.fillText(b.text, bx + 7, py + 1);
      }
      // small top tab
      ctx.fillStyle = BLUE;
      ctx.fillRect(0, 0, 62, 10);
      ctx.restore();
    },
  };
}

function volumePlugin() {
  return {
    id: 'volumePanel',
    beforeDraw(chart: any) {
      const { ctx, chartArea: a } = chart;
      ctx.save();
      ctx.fillStyle = OUTER;
      ctx.fillRect(0, 0, chart.width, chart.height);
      ctx.fillStyle = PANEL;
      ctx.fillRect(a.left, a.top, a.right - a.left, a.bottom - a.top);
      ctx.restore();
    },
    beforeDatasetsDraw(chart: any) {
      const { ctx, chartArea: a, scales } = chart;
      const cx = Math.round(scales.x.getPixelForValue(mid(cursorMinute)));
      ctx.save();
      ctx.strokeStyle = '#8c8c8c';
      ctx.lineWidth = 1.5;
      ctx.beginPath();
      ctx.moveTo(cx, a.top);
      ctx.lineTo(cx, a.bottom);
      ctx.stroke();
      ctx.restore();
    },
    afterDraw(chart: any) {
      const { ctx, chartArea: a, scales } = chart;
      ctx.save();
      ctx.fillStyle = '#5c5c5c';
      ctx.fillRect(0, a.bottom, a.right + 2, 2);
      ctx.fillRect(a.right, 0, 2, a.bottom + 2);
      // cursor time box
      const cx = scales.x.getPixelForValue(mid(cursorMinute));
      ctx.font = `22px "${FONT}"`;
      const tw = ctx.measureText(cursorLabel).width;
      ctx.fillStyle = '#a9a9a9';
      ctx.beginPath();
      ctx.roundRect(cx + 3, a.bottom + 6, tw + 10, 28, 5);
      ctx.fill();
      ctx.fillStyle = '#111111';
      ctx.textBaseline = 'middle';
      ctx.textAlign = 'left';
      ctx.fillText(cursorLabel, cx + 8, a.bottom + 21);
      // unit label, rotated, clipped by canvas edge
      ctx.fillStyle = '#9a9a9a';
      ctx.font = `22px "${FONT}"`;
      ctx.textBaseline = 'top';
      ctx.translate(chart.width - 8, a.bottom + 2);
      ctx.rotate(-Math.PI / 2);
      ctx.fillText('<thousands>', 0, 0);
      ctx.restore();
    },
  };
}

export default function App() {
  const priceRef = useRef<HTMLCanvasElement>(null);
  const volRef = useRef<HTMLCanvasElement>(null);

  useEffect(() => {
    document.body.style.margin = '0';
    const candles = allCandles();

    const wickData = candles.map((k) => ({ x: mid(k.t), y: [k.l, k.h] }));
    const bodyData = candles.map((k) => ({ x: mid(k.t), y: [k.o, k.c] }));
    const bodyFill = candles.map((k) =>
      k.c > k.o ? (k.t < SESSION_OPEN || k.t >= SESSION_CLOSE ? SHADE : PANEL) : colorOf(k)
    );

    const priceChart = new Chart(priceRef.current as HTMLCanvasElement, {
      type: 'bar',
      data: {
        datasets: [
          {
            type: 'line',
            data: emaLine.map(([m, p]) => ({ x: mid(m), y: p })),
            borderColor: '#00eef2',
            borderWidth: 2.6,
            pointRadius: 0,
            tension: 0,
            order: 1,
          },
          {
            type: 'line',
            data: vwapLine.map(([m, p]) => ({ x: mid(m), y: p })),
            borderColor: '#e24fe6',
            borderWidth: 2.2,
            pointRadius: 0,
            tension: 0,
            order: 1,
          },
          {
            type: 'bar',
            data: bodyData,
            backgroundColor: bodyFill,
            borderColor: candles.map(colorOf),
            borderWidth: 1.6,
            borderSkipped: false,
            barThickness: 6,
            minBarLength: 2,
            grouped: false,
            order: 2,
          },
          {
            type: 'bar',
            data: wickData,
            backgroundColor: candles.map(colorOf),
            borderWidth: 0,
            barThickness: 1.6,
            minBarLength: 1,
            grouped: false,
            order: 3,
          },
        ] as any,
      },
      options: {
        responsive: false,
        animation: false,
        devicePixelRatio: 1,
        events: [],
        layout: { padding: 0 },
        plugins: { legend: { display: false }, tooltip: { enabled: false } },
        scales: {
          x: xScaleBase({
            ticks: { display: false },
            afterFit: (s: any) => {
              s.height = 6;
              s.paddingLeft = 0;
              s.paddingRight = 0;
            },
          }),
          y: {
            type: 'linear',
            position: 'right',
            min: P_MIN,
            max: P_MAX,
            grid: { color: GRID, lineWidth: 1, drawTicks: false },
            border: { display: false, dash: [2, 10] },
            ticks: {
              color: AXIS_TEXT,
              font: { family: FONT, size: 22 },
              padding: 5,
              labelOffset: 6,
              callback: (v: any) => (priceBoxes.some((b) => b.value === v) ? '' : String(v)),
            },
            afterBuildTicks: (s: any) => {
              s.ticks = priceTicks.map((v) => ({ value: v }));
            },
            afterFit: (s: any) => {
              s.width = AXIS_W;
              s.paddingTop = 0;
              s.paddingBottom = 0;
            },
          },
        } as any,
      },
      plugins: [pricePlugin()],
    } as any);

    const volCandles = candles.filter((k) => k.v > 0);
    const volumeChart = new Chart(volRef.current as HTMLCanvasElement, {
      type: 'bar',
      data: {
        datasets: [
          {
            data: volCandles.map((k) => ({ x: mid(k.t), y: k.v })),
            backgroundColor: '#1b6ea4',
            borderWidth: 0,
            barThickness: 2,
            grouped: false,
          },
        ] as any,
      },
      options: {
        responsive: false,
        animation: false,
        devicePixelRatio: 1,
        events: [],
        layout: { padding: 0 },
        plugins: { legend: { display: false }, tooltip: { enabled: false } },
        scales: {
          x: xScaleBase({
            ticks: {
              color: AXIS_TEXT,
              font: { family: FONT, size: 22 },
              align: 'start',
              padding: 6,
              maxRotation: 0,
              minRotation: 0,
              autoSkip: false,
              callback: (v: any) => labelForMinute(v),
            },
            afterFit: (s: any) => {
              s.height = 35;
              s.paddingLeft = 0;
              s.paddingRight = 0;
            },
          }),
          y: {
            type: 'linear',
            position: 'right',
            min: 0,
            max: V_MAX,
            grid: { color: GRID, lineWidth: 1, drawTicks: false },
            border: { display: false, dash: [2, 10] },
            ticks: {
              color: AXIS_TEXT,
              font: { family: FONT, size: 22 },
              padding: 5,
              labelOffset: 2,
              callback: (v: any) => (v === 0 ? '' : String(v)),
            },
            afterBuildTicks: (s: any) => {
              s.ticks = volumeTicks.map((v) => ({ value: v }));
            },
            afterFit: (s: any) => {
              s.width = AXIS_W;
              s.paddingTop = 0;
              s.paddingBottom = 0;
            },
          },
        } as any,
      },
      plugins: [volumePlugin()],
    } as any);

    return () => {
      priceChart.destroy();
      volumeChart.destroy();
    };
  }, []);

  const plotW = 3550 - AXIS_W;
  return (
    <div style={{ position: 'fixed', left: 0, top: 0, width: 3550, height: 2240, background: OUTER, overflow: 'hidden' }}>
      <canvas ref={priceRef} width={3550} height={2046} style={{ position: 'absolute', left: 0, top: 0 }} />
      <div style={{ position: 'absolute', left: 0, top: 2044, width: plotW, height: 2, background: '#4a4a4a' }} />
      <div style={{ position: 'absolute', left: 0, top: 2048, width: plotW, height: 2, background: '#5c5c5c' }} />
      <div style={{ position: 'absolute', left: 0, top: 2050, width: plotW, height: 38, background: '#0a0a0a' }} />
      <div style={{ position: 'absolute', left: 50, top: 2050, width: 2, height: 38, background: '#4a4a4a' }} />
      <div style={{ position: 'absolute', left: plotW, top: 2040, width: 2, height: 50, background: '#5c5c5c' }} />
      <div
        style={{
          position: 'absolute', left: 2, top: 2050, height: 38, lineHeight: '38px',
          fontFamily: FONT, fontSize: 20, color: '#a0a0a0',
        }}
      >
        {stripValue}
      </div>
      <div style={{ position: 'absolute', left: 0, top: 2088, width: plotW, height: 2, background: '#5c5c5c' }} />
      <canvas ref={volRef} width={3550} height={150} style={{ position: 'absolute', left: 0, top: 2090 }} />
    </div>
  );
}
